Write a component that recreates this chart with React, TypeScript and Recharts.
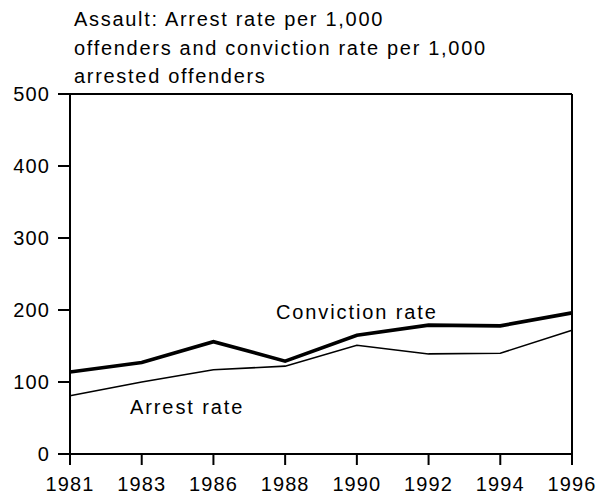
import { LineChart, Line, XAxis, YAxis, ReferenceDot, ReferenceLine } from 'recharts'

const years = ['1981', '1983', '1986', '1988', '1990', '1992', '1994', '1996']
const convictionRate = [114, 127, 156, 129, 165, 179, 178, 196]
const arrestRate = [81, 100, 117, 122, 151, 139, 140, 172]
const yTicks = [0, 100, 200, 300, 400, 500]

const titleLines = [
  'Assault: Arrest rate per 1,000',
  'offenders and conviction rate per 1,000',
  'arrested offenders',
]

const FONT = '"Liberation Sans", Arial, Helvetica, sans-serif'

const data = years.map((year, i) => ({
  year,
  conviction: convictionRate[i],
  arrest: arrestRate[i],
}))

const tickStyle = { fontSize: 20, fill: '#000', fontFamily: FONT, letterSpacing: 1.1 }
const labelStyle = { fontSize: 20, fill: '#000', fontFamily: FONT, letterSpacing: 1.9 }

export default function App() {
  return (
    <div style={{ position: 'absolute', left: 0, top: 0, width: 607, height: 496, background: '#fff' }}>
      {/* title block */}
      <div
        style={{
          position: 'absolute',
          left: 74,
          top: 5,
          fontFamily: FONT,
          fontSize: 20,
          lineHeight: '28.5px',
          letterSpacing: 1.7,
          color: '#000',
          whiteSpace: 'nowrap',
        }}
      >
        {titleLines.map((line) => (
          <div key={line}>{line}</div>
        ))}
      </div>
      <LineChart
        width={607}
        height={496}
        data={data}
        margin={{ top: 94, right: 35, bottom: 0, left: 0 }}
      >
        <XAxis
          dataKey="year"
          type="category"
          interval={0}
          padding={{ left: 0, right: 0 }}
          stroke="#000"
          strokeWidth={2}
          tickSize={11}
          tickMargin={12}
          tick={tickStyle}
          height={42}
        />
        <YAxis
          domain={[0, 500]}
          ticks={yTicks}
          interval={0}
          stroke="#000"
          strokeWidth={2}
          tickSize={12}
          tickMargin={8}
          tick={tickStyle}
          width={70}
        />
        {/* frame: top and right edges */}
        <ReferenceLine y={500} stroke="#000" strokeWidth={2} />
        <ReferenceLine x="1996" stroke="#000" strokeWidth={2} />
        <Line dataKey="arrest" stroke="#000" strokeWidth={1.6} dot={false} isAnimationActive={false} />
        <Line dataKey="conviction" stroke="#000" strokeWidth={3.6} dot={false} isAnimationActive={false} />
        <ReferenceDot
          x="1990"
          y={197}
          r={0}
          fill="none"
          stroke="none"
          label={{ value: 'Conviction rate', position: 'center', style: labelStyle }}
        />
        <ReferenceDot
          x="1981"
          y={65}
          r={0}
          fill="none"
          stroke="none"
          label={{ value: 'Arrest rate', position: 'right', offset: 60, style: labelStyle }}
        />
      </LineChart>
    </div>
  )
}
